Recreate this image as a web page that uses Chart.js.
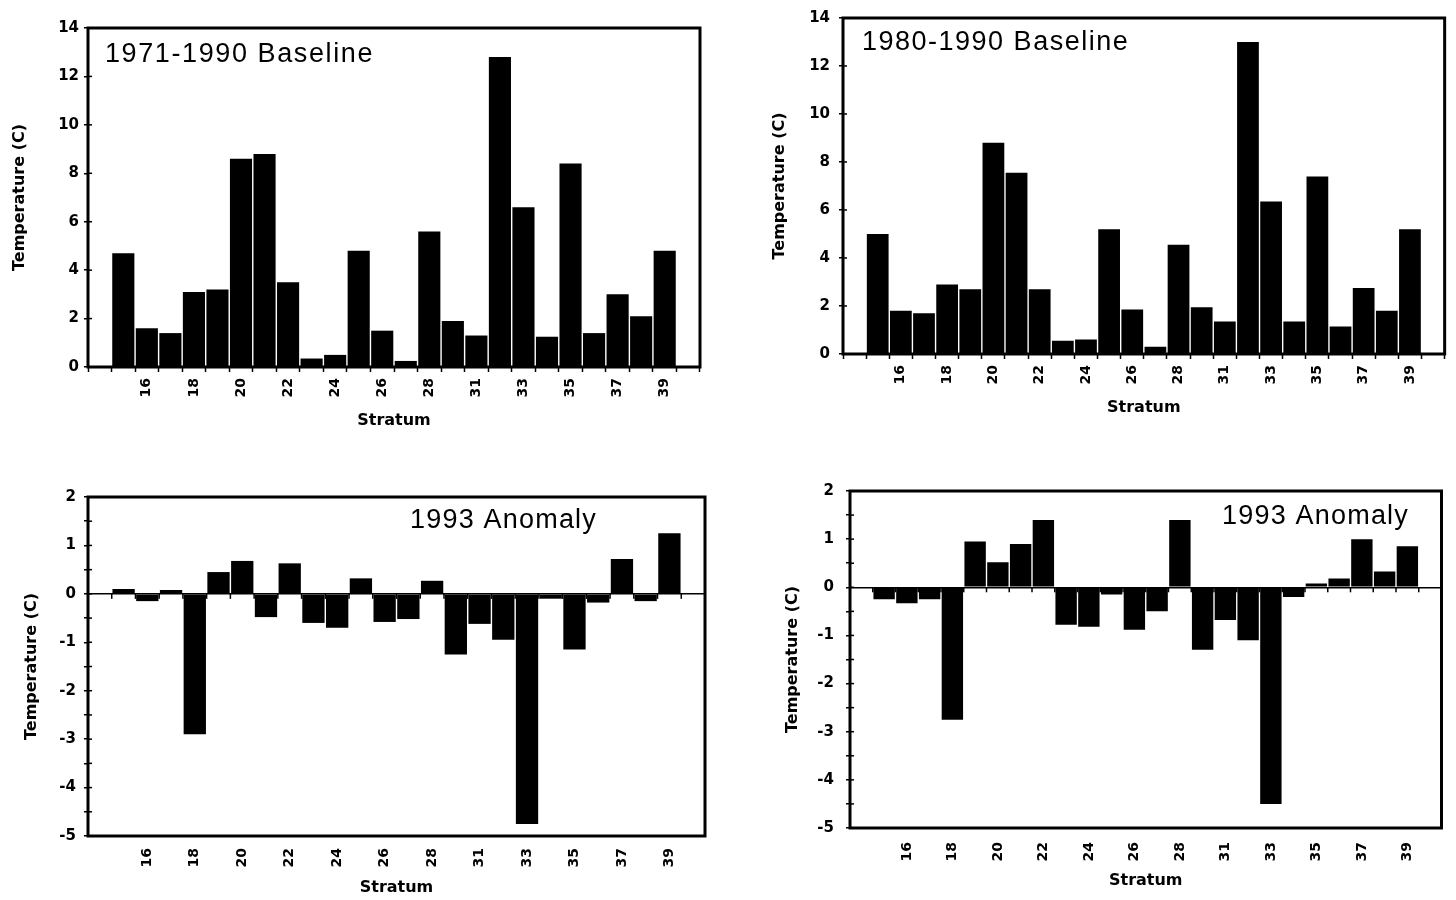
<!DOCTYPE html>
<html><head><meta charset="utf-8">
<script src="https://cdn.jsdelivr.net/npm/chart.js@4.4.1/dist/chart.umd.min.js"></script>
<style>
html,body{margin:0;padding:0;background:#fff;}
body{width:1456px;height:900px;position:relative;overflow:hidden;}
.panel{position:absolute;}
</style></head><body>
<div class="panel" style="left:0px;top:0px;width:720px;height:440px"><canvas id="c1"></canvas></div>
<div class="panel" style="left:730px;top:0px;width:726px;height:430px"><canvas id="c2"></canvas></div>
<div class="panel" style="left:0px;top:470px;width:720px;height:430px"><canvas id="c3"></canvas></div>
<div class="panel" style="left:730px;top:470px;width:726px;height:430px"><canvas id="c4"></canvas></div>
<script>
// ---- data ----
const strata = ['', '15','16','17','18','19','20','21','22','23','24','25','26','27','28','29','31','32','33','34','35','36','37','38','39',''];
const baseline7190 = [null,4.7,1.6,1.4,3.1,3.2,8.6,8.8,3.5,0.35,0.5,4.8,1.5,0.25,5.6,1.9,1.3,12.8,6.6,1.25,8.4,1.4,3.0,2.1,4.8,null];
const baseline8090 = [null,5.0,1.8,1.7,2.9,2.7,8.8,7.55,2.7,0.55,0.6,5.2,1.85,0.3,4.55,1.95,1.35,13.0,6.35,1.35,7.4,1.15,2.75,1.8,5.2,null];
const anomaly7190 = [null,0.1,-0.15,0.08,-2.9,0.45,0.68,-0.48,0.63,-0.6,-0.7,0.32,-0.58,-0.52,0.27,-1.25,-0.62,-0.95,-4.75,-0.1,-1.15,-0.18,0.72,-0.15,1.25,null];
const anomaly8090 = [null,-0.25,-0.33,-0.25,-2.75,0.95,0.52,0.9,1.4,-0.78,-0.82,-0.15,-0.88,-0.5,1.4,-1.3,-0.68,-1.1,-4.5,-0.2,0.08,0.18,1.0,0.33,0.85,null];
const baselineTicks = {min: 0, max: 14, step: 2};
const anomalyTicks = {min: -5, max: 2, step: 0.5};
const titleTL = '1971-1990 Baseline';
const titleTR = '1980-1990 Baseline';
const titleAnom = '1993 Anomaly';
const yTitle = 'Temperature (C)';
const xTitle = 'Stratum';

Chart.defaults.font.family = "'DejaVu Sans', 'Liberation Sans', sans-serif";
Chart.defaults.font.weight = 'bold';
Chart.defaults.font.size = 14;
Chart.defaults.color = '#000';

const framePlugin = {
  id: 'frame',
  afterDatasetsDraw(chart, args, opts) {
    const ctx = chart.ctx, a = chart.chartArea;
    const ys = chart.scales.y, xs = chart.scales.x;
    ctx.save();
    ctx.strokeStyle = '#000';
    // inner y ticks
    ctx.lineWidth = 1.5;
    ys.ticks.forEach((t, i) => {
      const py = ys.getPixelForTick(i);
      ctx.beginPath(); ctx.moveTo(a.left, py); ctx.lineTo(a.left + 4, py); ctx.stroke();
    });
    // ticks on zero line (anomaly charts)
    if (opts.zeroTicks) {
      const zy = ys.getPixelForValue(0);
      const n = xs.ticks.length;
      for (let i = 0; i <= n; i++) {
        const bx = a.left + (a.right - a.left) * i / n;
        ctx.beginPath(); ctx.moveTo(bx, zy); ctx.lineTo(bx, zy + 5); ctx.stroke();
      }
    }
    ctx.lineWidth = 3;
    ctx.strokeRect(a.left, a.top, a.right - a.left, a.bottom - a.top);
    ctx.restore();
  }
};

const labelPlugin = {
  id: 'panelLabel',
  afterDraw(chart, args, opts) {
    const ctx = chart.ctx;
    ctx.save();
    ctx.font = "27px 'Liberation Sans', Arial, sans-serif";
    try { ctx.letterSpacing = opts.spacing || '0px'; } catch (e) {}
    ctx.fillStyle = '#000';
    ctx.textBaseline = 'alphabetic';
    ctx.textAlign = 'left';
    ctx.fillText(opts.text, opts.x, opts.y);
    ctx.restore();
  }
};

function makeChart(id, values, range, anomaly, g) {
  const ctx = document.getElementById(id);
  return new Chart(ctx, {
    type: 'bar',
    data: {
      labels: strata,
      datasets: [{ data: values, backgroundColor: '#000', borderWidth: 0,
                   barPercentage: 0.94, categoryPercentage: 1.0 }]
    },
    plugins: [framePlugin, labelPlugin],
    options: {
      responsive: true, maintainAspectRatio: false, animation: false,
      layout: { padding: { top: g.top, right: g.right, left: 0, bottom: 0 } },
      plugins: {
        legend: { display: false }, tooltip: { enabled: false },
        frame: { zeroTicks: anomaly },
        panelLabel: { text: g.text, x: g.tx, y: g.ty, spacing: g.sp }
      },
      scales: {
        x: {
          type: 'category',
          afterFit: s => { s.height = g.xh; },
          border: { display: false },
          grid: { offset: true, drawOnChartArea: false, drawTicks: true, tickLength: 5,
                  tickWidth: 1.5, tickColor: anomaly ? 'rgba(0,0,0,0)' : '#000' },
          ticks: { autoSkip: false, minRotation: 90, maxRotation: 90, padding: g.xpad,
                   font: { size: 14, weight: 'bold' },
                   callback: (v, i) => (i % 2 === 0 ? strata[i] : '') },
          title: { display: true, text: xTitle, font: { size: 16, weight: 'bold' },
                   padding: { top: 0, bottom: g.xtp } }
        },
        y: {
          min: range.min, max: range.max,
          afterFit: s => { s.width = g.yw; },
          border: { display: false },
          grid: { drawOnChartArea: anomaly, drawTicks: true, tickLength: 4, tickWidth: 1.5,
                  tickColor: '#000', lineWidth: 1.5,
                  color: c => (anomaly && c.tick && c.tick.value === 0) ? '#000' : 'rgba(0,0,0,0)' },
          ticks: { stepSize: range.step, padding: g.ypad, font: { size: 15, weight: 'bold' },
                   callback: v => (Number.isInteger(v) ? String(v) : '') },
          title: { display: true, text: yTitle, font: { size: 16, weight: 'bold' },
                   padding: { top: g.ytp, bottom: 0 } }
        }
      }
    }
  });
}

makeChart('c1', baseline7190, baselineTicks, false,
  { top: 28, right: 20, yw: 88, xh: 73, ytp: 10.4, xtp: 9.4, ypad: 5, xpad: 6,
    text: titleTL, tx: 105, ty: 62, sp: '1.6px' });
makeChart('c2', baseline8090, baselineTicks, false,
  { top: 14, right: 6, yw: 113, xh: 76, ytp: 40.4, xtp: 12.4, ypad: 9, xpad: 6,
    text: titleTR, tx: 132, ty: 50, sp: '1.5px' });
makeChart('c3', anomaly7190, anomalyTicks, true,
  { top: 27, right: 15, yw: 88, xh: 64, ytp: 22.4, xtp: 2.4, ypad: 8, xpad: 7,
    text: titleAnom, tx: 410, ty: 58, sp: '1.2px' });
makeChart('c4', anomaly8090, anomalyTicks, true,
  { top: 18, right: 4, yw: 120, xh: 72, ytp: 53.4, xtp: 9.4, ypad: 12, xpad: 9,
    text: titleAnom, tx: 492, ty: 54, sp: '1.2px' });
</script>
</body></html>
